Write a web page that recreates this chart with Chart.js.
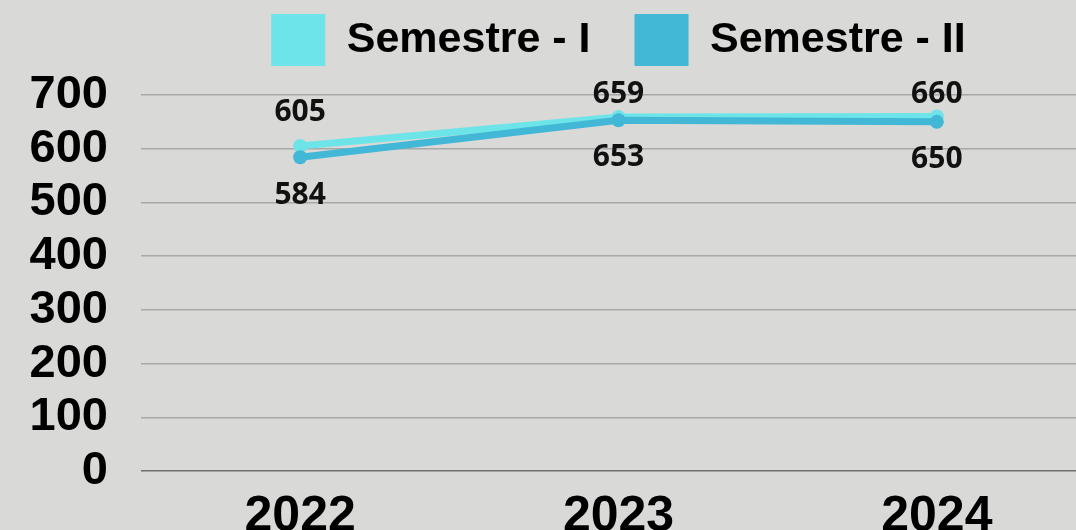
<!DOCTYPE html>
<html>
<head>
<meta charset="utf-8">
<script src="https://cdn.jsdelivr.net/npm/chart.js@4.4.1/dist/chart.umd.min.js"></script>
<style>
  html, body { margin: 0; padding: 0; background: #d9d9d7; }
  #wrap { width: 1076px; height: 530px; overflow: hidden; position: relative; }
  #lineas { display: block; }
</style>
</head>
<body>
<div id="wrap">
  <canvas id="lineas" width="1103" height="563"></canvas>
</div>
<script>
const anios = ["2022", "2023", "2024"];
const semestreI = [605, 659, 660];
const semestreII = [584, 653, 650];
const nombres = ["Semestre - I", "Semestre - II"];

const colorI = "#6de4e8";
const colorII = "#42b7d6";

// etiquetas de valor encima / debajo de cada punto
const etiquetasValor = {
    id: "etiquetasValor",
    afterDatasetsDraw(chart, args, opts) {
        const ctx = chart.ctx;
        ctx.save();
        ctx.font = "bold 30px 'Open Sans', 'Noto Sans', sans-serif";
        ctx.fillStyle = "#111";
        ctx.textAlign = "center";
        ctx.textBaseline = "middle";
        chart.data.datasets.forEach((ds, i) => {
            const meta = chart.getDatasetMeta(i);
            meta.data.forEach((p, j) => {
                ctx.fillText(String(ds.data[j]), p.x, p.y + opts.desplaz[i][j]);
            });
        });
        ctx.restore();
    }
};

// alto fijo para la leyenda, asi el area del grafico empieza donde toca
const altoLeyenda = {
    id: "altoLeyenda",
    beforeInit(chart) {
        const fitOrig = chart.legend.fit;
        chart.legend.fit = function () {
            fitOrig.call(this);
            this.height = 125;
        };
    }
};

function cargaGraficoLineas() {
    const datos = {
        labels: anios,
        datasets: [{
            label: nombres[0],
            data: semestreI,
            borderColor: colorI,
            backgroundColor: colorI,
            pointBackgroundColor: colorI,
            borderWidth: 7,
            pointRadius: 7,
            pointBorderWidth: 0,
            order: 2
        }, {
            label: nombres[1],
            data: semestreII,
            borderColor: colorII,
            backgroundColor: colorII,
            pointBackgroundColor: colorII,
            borderWidth: 7,
            pointRadius: 7,
            pointBorderWidth: 0,
            order: 1
        }]
    };

    const config = {
        type: "line",
        data: datos,
        plugins: [etiquetasValor, altoLeyenda],
        options: {
            responsive: false,
            animation: false,
            layout: { padding: { top: -30, left: 0, right: 0, bottom: 0 } },
            plugins: {
                tooltip: { enabled: false },
                legend: {
                    position: "top",
                    fullSize: false,
                    labels: {
                        boxWidth: 54,
                        boxHeight: 52,
                        padding: 44,
                        color: "#000",
                        font: { family: "'Liberation Sans', Arial, sans-serif", size: 43, weight: "bold" },
                        sort: (a, b) => a.datasetIndex - b.datasetIndex,
                        generateLabels: (chart) => {
                            const items = Chart.defaults.plugins.legend.labels.generateLabels(chart);
                            items.forEach(it => { it.lineWidth = 0; });
                            return items;
                        }
                    }
                },
                etiquetasValor: {
                    desplaz: [[-34, -23, -22], [38, 37, 38]]
                }
            },
            scales: {
                x: {
                    offset: true,
                    grid: { display: false, drawTicks: false },
                    border: { display: false },
                    ticks: {
                        color: "#000",
                        padding: 16,
                        font: { family: "'Liberation Sans', Arial, sans-serif", size: 50, weight: "bold" }
                    }
                },
                y: {
                    min: 0,
                    max: 700,
                    ticks: {
                        stepSize: 100,
                        autoSkip: false,
                        color: "#000",
                        padding: 33,
                        font: { family: "'Liberation Sans', Arial, sans-serif", size: 47, weight: "bold" }
                    },
                    grid: {
                        drawTicks: false,
                        lineWidth: 1.5,
                        color: (c) => c.tick && c.tick.value === 0 ? "#6e6e6e" : "#a8a8a8"
                    },
                    border: { display: false },
                    afterFit: (scale) => { scale.width = 141; }
                }
            }
        }
    };

    const ctx = document.getElementById("lineas").getContext("2d");
    new Chart(ctx, config);
}

cargaGraficoLineas();
</script>
</body>
</html>
